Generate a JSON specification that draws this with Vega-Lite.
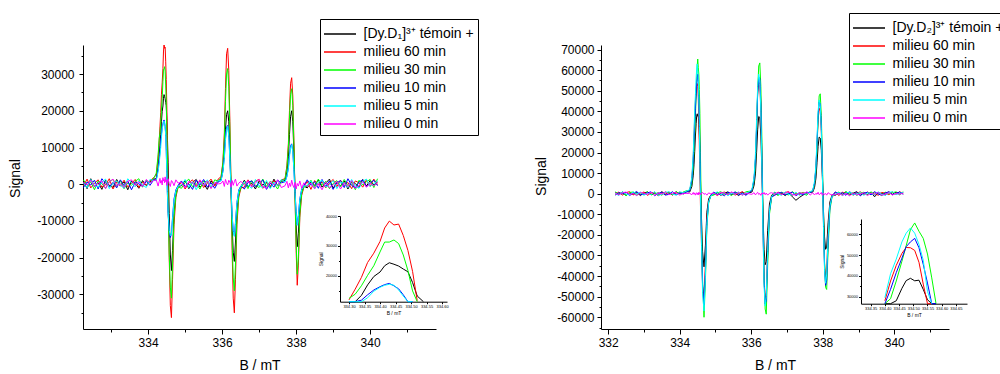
{
"$schema":"https://vega.github.io/schema/vega-lite/v6.json",
"autosize":{"type":"pad"},
"padding":{"left":8,"top":12,"right":0,"bottom":0},
"background":"white",
"bounds":"flush",
"spacing":165,
"config":{"view":{"stroke":null},"font":"Liberation Sans","axis":{"grid":false,"domainColor":"black","tickColor":"black","labelColor":"black","titleColor":"black","labelFont":"Liberation Sans","titleFont":"Liberation Sans","titleFontWeight":"normal","domainWidth":1,"tickWidth":1},"legend":{"labelFont":"Liberation Sans"}},
"datasets":{
"L":[
{"s":"k","B":332.25,"v":800},{"s":"k","B":332.35,"v":-1200},{"s":"k","B":332.45,"v":1500},{"s":"k","B":332.55,"v":-600},{"s":"k","B":332.65,"v":400},{"s":"k","B":332.75,"v":-1400},{"s":"k","B":332.85,"v":1100},{"s":"k","B":332.95,"v":-300},{"s":"k","B":333.05,"v":-900},{"s":"k","B":333.15,"v":1300},{"s":"k","B":333.25,"v":-500},{"s":"k","B":333.35,"v":700},{"s":"k","B":333.45,"v":-1500},{"s":"k","B":333.55,"v":900},{"s":"k","B":333.65,"v":200},{"s":"k","B":333.75,"v":-1100},{"s":"k","B":333.85,"v":1000},{"s":"k","B":333.95,"v":-400},{"s":"k","B":334.05,"v":600},{"s":"k","B":334.15,"v":1400},
{"s":"k","B":334.22,"v":1500},{"s":"k","B":334.27,"v":4500},{"s":"k","B":334.3,"v":8000},{"s":"k","B":334.32,"v":10500},{"s":"k","B":334.34,"v":13500},{"s":"k","B":334.36,"v":17000},{"s":"k","B":334.38,"v":19800},{"s":"k","B":334.4,"v":21300},{"s":"k","B":334.415,"v":23400},{"s":"k","B":334.43,"v":24400},{"s":"k","B":334.445,"v":23900},{"s":"k","B":334.46,"v":23300},{"s":"k","B":334.475,"v":22300},{"s":"k","B":334.49,"v":21400},{"s":"k","B":334.505,"v":17800},{"s":"k","B":334.52,"v":13300},{"s":"k","B":334.54,"v":6000},{"s":"k","B":334.57,"v":-8000},{"s":"k","B":334.6,"v":-19000},{"s":"k","B":334.63,"v":-23500},{"s":"k","B":334.66,"v":-18000},{"s":"k","B":334.7,"v":-8000},{"s":"k","B":334.75,"v":-2500},{"s":"k","B":334.81,"v":-600},
{"s":"k","B":334.9,"v":-400},{"s":"k","B":335,"v":1000},{"s":"k","B":335.1,"v":-1200},{"s":"k","B":335.2,"v":500},{"s":"k","B":335.3,"v":1300},{"s":"k","B":335.4,"v":-800},{"s":"k","B":335.5,"v":200},{"s":"k","B":335.6,"v":-1400},{"s":"k","B":335.7,"v":900},{"s":"k","B":335.8,"v":-300},{"s":"k","B":335.9,"v":1100},
{"s":"k","B":335.97,"v":1200},{"s":"k","B":336.02,"v":4000},{"s":"k","B":336.06,"v":9000},{"s":"k","B":336.09,"v":15000},{"s":"k","B":336.12,"v":19000},{"s":"k","B":336.15,"v":20000},{"s":"k","B":336.18,"v":17000},{"s":"k","B":336.21,"v":9000},{"s":"k","B":336.24,"v":-1000},{"s":"k","B":336.27,"v":-11000},{"s":"k","B":336.3,"v":-18500},{"s":"k","B":336.33,"v":-21000},{"s":"k","B":336.36,"v":-16000},{"s":"k","B":336.4,"v":-7000},{"s":"k","B":336.45,"v":-2500},{"s":"k","B":336.51,"v":-600},
{"s":"k","B":336.6,"v":1100},{"s":"k","B":336.7,"v":-700},{"s":"k","B":336.8,"v":300},{"s":"k","B":336.9,"v":-1300},{"s":"k","B":337,"v":900},{"s":"k","B":337.1,"v":-200},{"s":"k","B":337.2,"v":600},{"s":"k","B":337.3,"v":-1000},{"s":"k","B":337.4,"v":1400},{"s":"k","B":337.5,"v":-500},{"s":"k","B":337.6,"v":800},
{"s":"k","B":337.7,"v":1000},{"s":"k","B":337.75,"v":3500},{"s":"k","B":337.79,"v":7500},{"s":"k","B":337.82,"v":13500},{"s":"k","B":337.85,"v":18500},{"s":"k","B":337.88,"v":20000},{"s":"k","B":337.91,"v":17000},{"s":"k","B":337.94,"v":8500},{"s":"k","B":337.97,"v":-2000},{"s":"k","B":338,"v":-11000},{"s":"k","B":338.03,"v":-17000},{"s":"k","B":338.06,"v":-13500},{"s":"k","B":338.1,"v":-6000},{"s":"k","B":338.15,"v":-2000},{"s":"k","B":338.21,"v":-500},
{"s":"k","B":338.3,"v":-1000},{"s":"k","B":338.4,"v":600},{"s":"k","B":338.5,"v":-300},{"s":"k","B":338.6,"v":1200},{"s":"k","B":338.7,"v":-800},{"s":"k","B":338.8,"v":300},{"s":"k","B":338.9,"v":1400},{"s":"k","B":339,"v":-1100},{"s":"k","B":339.1,"v":500},{"s":"k","B":339.2,"v":-400},{"s":"k","B":339.3,"v":900},{"s":"k","B":339.4,"v":-1300},{"s":"k","B":339.5,"v":700},{"s":"k","B":339.6,"v":200},{"s":"k","B":339.7,"v":-900},{"s":"k","B":339.8,"v":1300},{"s":"k","B":339.9,"v":-500},{"s":"k","B":340,"v":1000},{"s":"k","B":340.1,"v":-200},{"s":"k","B":340.2,"v":600},

{"s":"r","B":332.25,"v":-500},{"s":"r","B":332.35,"v":1400},{"s":"r","B":332.45,"v":-1000},{"s":"r","B":332.55,"v":300},{"s":"r","B":332.65,"v":1200},{"s":"r","B":332.75,"v":-800},{"s":"r","B":332.85,"v":-200},{"s":"r","B":332.95,"v":1500},{"s":"r","B":333.05,"v":-1300},{"s":"r","B":333.15,"v":600},{"s":"r","B":333.25,"v":-400},{"s":"r","B":333.35,"v":1100},{"s":"r","B":333.45,"v":-700},{"s":"r","B":333.55,"v":200},{"s":"r","B":333.65,"v":1300},{"s":"r","B":333.75,"v":-900},{"s":"r","B":333.85,"v":500},{"s":"r","B":333.95,"v":-200},{"s":"r","B":334.05,"v":900},{"s":"r","B":334.15,"v":1800},
{"s":"r","B":334.22,"v":2500},{"s":"r","B":334.27,"v":7000},{"s":"r","B":334.3,"v":12000},{"s":"r","B":334.32,"v":15600},{"s":"r","B":334.34,"v":19500},{"s":"r","B":334.36,"v":24500},{"s":"r","B":334.38,"v":27600},{"s":"r","B":334.4,"v":31500},{"s":"r","B":334.415,"v":36000},{"s":"r","B":334.43,"v":38300},{"s":"r","B":334.445,"v":37000},{"s":"r","B":334.46,"v":37300},{"s":"r","B":334.475,"v":33500},{"s":"r","B":334.49,"v":28500},{"s":"r","B":334.505,"v":21500},{"s":"r","B":334.52,"v":11700},{"s":"r","B":334.54,"v":-2000},{"s":"r","B":334.57,"v":-20000},{"s":"r","B":334.6,"v":-33000},{"s":"r","B":334.63,"v":-36300},{"s":"r","B":334.66,"v":-26000},{"s":"r","B":334.7,"v":-11000},{"s":"r","B":334.75,"v":-3500},{"s":"r","B":334.81,"v":-800},
{"s":"r","B":334.9,"v":700},{"s":"r","B":335,"v":-1300},{"s":"r","B":335.1,"v":400},{"s":"r","B":335.2,"v":1200},{"s":"r","B":335.3,"v":-600},{"s":"r","B":335.4,"v":1000},{"s":"r","B":335.5,"v":-900},{"s":"r","B":335.6,"v":300},{"s":"r","B":335.7,"v":1400},{"s":"r","B":335.8,"v":-500},{"s":"r","B":335.9,"v":1500},
{"s":"r","B":335.97,"v":2000},{"s":"r","B":336.02,"v":6000},{"s":"r","B":336.06,"v":14000},{"s":"r","B":336.09,"v":26000},{"s":"r","B":336.12,"v":35500},{"s":"r","B":336.15,"v":37000},{"s":"r","B":336.18,"v":31000},{"s":"r","B":336.21,"v":17000},{"s":"r","B":336.24,"v":0},{"s":"r","B":336.27,"v":-18000},{"s":"r","B":336.3,"v":-31000},{"s":"r","B":336.33,"v":-35000},{"s":"r","B":336.36,"v":-26000},{"s":"r","B":336.4,"v":-11000},{"s":"r","B":336.45,"v":-3500},{"s":"r","B":336.51,"v":-1000},
{"s":"r","B":336.6,"v":-800},{"s":"r","B":336.7,"v":1200},{"s":"r","B":336.8,"v":-400},{"s":"r","B":336.9,"v":900},{"s":"r","B":337,"v":1300},{"s":"r","B":337.1,"v":-1100},{"s":"r","B":337.2,"v":400},{"s":"r","B":337.3,"v":-600},{"s":"r","B":337.4,"v":1000},{"s":"r","B":337.5,"v":-300},{"s":"r","B":337.6,"v":1200},
{"s":"r","B":337.7,"v":1500},{"s":"r","B":337.75,"v":5000},{"s":"r","B":337.79,"v":11000},{"s":"r","B":337.82,"v":20000},{"s":"r","B":337.85,"v":27500},{"s":"r","B":337.88,"v":29000},{"s":"r","B":337.91,"v":24000},{"s":"r","B":337.94,"v":12000},{"s":"r","B":337.97,"v":-3000},{"s":"r","B":338,"v":-18000},{"s":"r","B":338.03,"v":-27500},{"s":"r","B":338.06,"v":-22000},{"s":"r","B":338.1,"v":-9000},{"s":"r","B":338.15,"v":-3000},{"s":"r","B":338.21,"v":-800},
{"s":"r","B":338.3,"v":800},{"s":"r","B":338.4,"v":-1400},{"s":"r","B":338.5,"v":1000},{"s":"r","B":338.6,"v":-200},{"s":"r","B":338.7,"v":600},{"s":"r","B":338.8,"v":-1000},{"s":"r","B":338.9,"v":300},{"s":"r","B":339,"v":1300},{"s":"r","B":339.1,"v":-700},{"s":"r","B":339.2,"v":1100},{"s":"r","B":339.3,"v":-300},{"s":"r","B":339.4,"v":500},{"s":"r","B":339.5,"v":-1200},{"s":"r","B":339.6,"v":900},{"s":"r","B":339.7,"v":400},{"s":"r","B":339.8,"v":-800},{"s":"r","B":339.9,"v":1200},{"s":"r","B":340,"v":-600},{"s":"r","B":340.1,"v":1400},{"s":"r","B":340.2,"v":-100},

{"s":"g","B":332.25,"v":1200},{"s":"g","B":332.35,"v":-300},{"s":"g","B":332.45,"v":600},{"s":"g","B":332.55,"v":-1500},{"s":"g","B":332.65,"v":900},{"s":"g","B":332.75,"v":200},{"s":"g","B":332.85,"v":-1100},{"s":"g","B":332.95,"v":700},{"s":"g","B":333.05,"v":1300},{"s":"g","B":333.15,"v":-600},{"s":"g","B":333.25,"v":1000},{"s":"g","B":333.35,"v":-1200},{"s":"g","B":333.45,"v":400},{"s":"g","B":333.55,"v":-300},{"s":"g","B":333.65,"v":800},{"s":"g","B":333.75,"v":1500},{"s":"g","B":333.85,"v":-800},{"s":"g","B":333.95,"v":1100},{"s":"g","B":334.05,"v":300},{"s":"g","B":334.15,"v":1600},
{"s":"g","B":334.22,"v":3000},{"s":"g","B":334.27,"v":8000},{"s":"g","B":334.3,"v":12500},{"s":"g","B":334.32,"v":13900},{"s":"g","B":334.34,"v":16700},{"s":"g","B":334.36,"v":20200},{"s":"g","B":334.38,"v":23400},{"s":"g","B":334.4,"v":28000},{"s":"g","B":334.415,"v":31300},{"s":"g","B":334.43,"v":31300},{"s":"g","B":334.445,"v":32000},{"s":"g","B":334.46,"v":30800},{"s":"g","B":334.475,"v":27000},{"s":"g","B":334.49,"v":21800},{"s":"g","B":334.505,"v":15000},{"s":"g","B":334.52,"v":7000},{"s":"g","B":334.54,"v":-5000},{"s":"g","B":334.57,"v":-19000},{"s":"g","B":334.6,"v":-28000},{"s":"g","B":334.63,"v":-31000},{"s":"g","B":334.66,"v":-22000},{"s":"g","B":334.7,"v":-9000},{"s":"g","B":334.75,"v":-3000},{"s":"g","B":334.81,"v":-700},
{"s":"g","B":334.9,"v":-1100},{"s":"g","B":335,"v":500},{"s":"g","B":335.1,"v":1400},{"s":"g","B":335.2,"v":-700},{"s":"g","B":335.3,"v":200},{"s":"g","B":335.4,"v":-1300},{"s":"g","B":335.5,"v":900},{"s":"g","B":335.6,"v":600},{"s":"g","B":335.7,"v":-1000},{"s":"g","B":335.8,"v":1200},{"s":"g","B":335.9,"v":800},
{"s":"g","B":335.97,"v":1800},{"s":"g","B":336.02,"v":5500},{"s":"g","B":336.06,"v":12500},{"s":"g","B":336.09,"v":22500},{"s":"g","B":336.12,"v":30000},{"s":"g","B":336.15,"v":31500},{"s":"g","B":336.18,"v":26500},{"s":"g","B":336.21,"v":14500},{"s":"g","B":336.24,"v":0},{"s":"g","B":336.27,"v":-15000},{"s":"g","B":336.3,"v":-25500},{"s":"g","B":336.33,"v":-29000},{"s":"g","B":336.36,"v":-22000},{"s":"g","B":336.4,"v":-9500},{"s":"g","B":336.45,"v":-3000},{"s":"g","B":336.51,"v":-800},
{"s":"g","B":336.6,"v":400},{"s":"g","B":336.7,"v":-1200},{"s":"g","B":336.8,"v":1000},{"s":"g","B":336.9,"v":-300},{"s":"g","B":337,"v":-900},{"s":"g","B":337.1,"v":1400},{"s":"g","B":337.2,"v":-600},{"s":"g","B":337.3,"v":800},{"s":"g","B":337.4,"v":200},{"s":"g","B":337.5,"v":-1300},{"s":"g","B":337.6,"v":900},
{"s":"g","B":337.7,"v":1400},{"s":"g","B":337.75,"v":4500},{"s":"g","B":337.79,"v":10000},{"s":"g","B":337.82,"v":18000},{"s":"g","B":337.85,"v":24500},{"s":"g","B":337.88,"v":26000},{"s":"g","B":337.91,"v":21500},{"s":"g","B":337.94,"v":10500},{"s":"g","B":337.97,"v":-3000},{"s":"g","B":338,"v":-16000},{"s":"g","B":338.03,"v":-24500},{"s":"g","B":338.06,"v":-20000},{"s":"g","B":338.1,"v":-8000},{"s":"g","B":338.15,"v":-2500},{"s":"g","B":338.21,"v":-700},
{"s":"g","B":338.3,"v":-600},{"s":"g","B":338.4,"v":1100},{"s":"g","B":338.5,"v":-900},{"s":"g","B":338.6,"v":1400},{"s":"g","B":338.7,"v":-300},{"s":"g","B":338.8,"v":800},{"s":"g","B":338.9,"v":-1200},{"s":"g","B":339,"v":200},{"s":"g","B":339.1,"v":1000},{"s":"g","B":339.2,"v":-700},{"s":"g","B":339.3,"v":1300},{"s":"g","B":339.4,"v":-400},{"s":"g","B":339.5,"v":600},{"s":"g","B":339.6,"v":-1500},{"s":"g","B":339.7,"v":1100},{"s":"g","B":339.8,"v":-200},{"s":"g","B":339.9,"v":700},{"s":"g","B":340,"v":1300},{"s":"g","B":340.1,"v":-900},{"s":"g","B":340.2,"v":1500},

{"s":"b","B":332.25,"v":-900},{"s":"b","B":332.35,"v":600},{"s":"b","B":332.45,"v":-200},{"s":"b","B":332.55,"v":1100},{"s":"b","B":332.65,"v":-1300},{"s":"b","B":332.75,"v":1500},{"s":"b","B":332.85,"v":300},{"s":"b","B":332.95,"v":-700},{"s":"b","B":333.05,"v":500},{"s":"b","B":333.15,"v":-1000},{"s":"b","B":333.25,"v":1200},{"s":"b","B":333.35,"v":-400},{"s":"b","B":333.45,"v":900},{"s":"b","B":333.55,"v":-1500},{"s":"b","B":333.65,"v":600},{"s":"b","B":333.75,"v":100},{"s":"b","B":333.85,"v":-600},{"s":"b","B":333.95,"v":800},{"s":"b","B":334.05,"v":-300},{"s":"b","B":334.15,"v":1200},
{"s":"b","B":334.22,"v":1200},{"s":"b","B":334.27,"v":4000},{"s":"b","B":334.3,"v":6500},{"s":"b","B":334.32,"v":8800},{"s":"b","B":334.34,"v":11900},{"s":"b","B":334.36,"v":13700},{"s":"b","B":334.38,"v":15300},{"s":"b","B":334.4,"v":16400},{"s":"b","B":334.415,"v":17100},{"s":"b","B":334.43,"v":17500},{"s":"b","B":334.445,"v":16700},{"s":"b","B":334.46,"v":15700},{"s":"b","B":334.475,"v":13700},{"s":"b","B":334.49,"v":9000},{"s":"b","B":334.505,"v":3000},{"s":"b","B":334.52,"v":-2500},{"s":"b","B":334.54,"v":-8000},{"s":"b","B":334.57,"v":-12500},{"s":"b","B":334.6,"v":-14500},{"s":"b","B":334.63,"v":-13500},{"s":"b","B":334.66,"v":-9000},{"s":"b","B":334.7,"v":-4000},{"s":"b","B":334.75,"v":-1500},{"s":"b","B":334.81,"v":-300},
{"s":"b","B":334.9,"v":900},{"s":"b","B":335,"v":-600},{"s":"b","B":335.1,"v":100},{"s":"b","B":335.2,"v":-1400},{"s":"b","B":335.3,"v":1100},{"s":"b","B":335.4,"v":-200},{"s":"b","B":335.5,"v":1300},{"s":"b","B":335.6,"v":-800},{"s":"b","B":335.7,"v":400},{"s":"b","B":335.8,"v":-1100},{"s":"b","B":335.9,"v":700},
{"s":"b","B":335.97,"v":1000},{"s":"b","B":336.02,"v":3500},{"s":"b","B":336.06,"v":7500},{"s":"b","B":336.09,"v":12500},{"s":"b","B":336.12,"v":15500},{"s":"b","B":336.15,"v":16000},{"s":"b","B":336.18,"v":13500},{"s":"b","B":336.21,"v":7000},{"s":"b","B":336.24,"v":-1000},{"s":"b","B":336.27,"v":-8500},{"s":"b","B":336.3,"v":-12500},{"s":"b","B":336.33,"v":-14000},{"s":"b","B":336.36,"v":-10500},{"s":"b","B":336.4,"v":-5000},{"s":"b","B":336.45,"v":-1500},{"s":"b","B":336.51,"v":-400},
{"s":"b","B":336.6,"v":-1300},{"s":"b","B":336.7,"v":500},{"s":"b","B":336.8,"v":900},{"s":"b","B":336.9,"v":-700},{"s":"b","B":337,"v":200},{"s":"b","B":337.1,"v":1200},{"s":"b","B":337.2,"v":-1400},{"s":"b","B":337.3,"v":300},{"s":"b","B":337.4,"v":-800},{"s":"b","B":337.5,"v":1100},{"s":"b","B":337.6,"v":400},
{"s":"b","B":337.7,"v":700},{"s":"b","B":337.75,"v":2200},{"s":"b","B":337.79,"v":4500},{"s":"b","B":337.82,"v":8000},{"s":"b","B":337.85,"v":10500},{"s":"b","B":337.88,"v":11000},{"s":"b","B":337.91,"v":9000},{"s":"b","B":337.94,"v":4000},{"s":"b","B":337.97,"v":-2000},{"s":"b","B":338,"v":-7500},{"s":"b","B":338.03,"v":-11000},{"s":"b","B":338.06,"v":-8500},{"s":"b","B":338.1,"v":-4000},{"s":"b","B":338.15,"v":-1300},{"s":"b","B":338.21,"v":-400},
{"s":"b","B":338.3,"v":1200},{"s":"b","B":338.4,"v":-300},{"s":"b","B":338.5,"v":700},{"s":"b","B":338.6,"v":-1100},{"s":"b","B":338.7,"v":1300},{"s":"b","B":338.8,"v":-600},{"s":"b","B":338.9,"v":900},{"s":"b","B":339,"v":-1400},{"s":"b","B":339.1,"v":400},{"s":"b","B":339.2,"v":1000},{"s":"b","B":339.3,"v":-900},{"s":"b","B":339.4,"v":1500},{"s":"b","B":339.5,"v":-300},{"s":"b","B":339.6,"v":-1000},{"s":"b","B":339.7,"v":600},{"s":"b","B":339.8,"v":1200},{"s":"b","B":339.9,"v":-700},{"s":"b","B":340,"v":300},{"s":"b","B":340.1,"v":1100},{"s":"b","B":340.2,"v":-400},

{"s":"c","B":332.25,"v":300},{"s":"c","B":332.35,"v":-1000},{"s":"c","B":332.45,"v":1300},{"s":"c","B":332.55,"v":-400},{"s":"c","B":332.65,"v":-800},{"s":"c","B":332.75,"v":600},{"s":"c","B":332.85,"v":1400},{"s":"c","B":332.95,"v":-1200},{"s":"c","B":333.05,"v":200},{"s":"c","B":333.15,"v":900},{"s":"c","B":333.25,"v":-300},{"s":"c","B":333.35,"v":-1100},{"s":"c","B":333.45,"v":1500},{"s":"c","B":333.55,"v":400},{"s":"c","B":333.65,"v":-700},{"s":"c","B":333.75,"v":1000},{"s":"c","B":333.85,"v":-200},{"s":"c","B":333.95,"v":-900},{"s":"c","B":334.05,"v":1300},{"s":"c","B":334.15,"v":1000},
{"s":"c","B":334.22,"v":1000},{"s":"c","B":334.27,"v":3500},{"s":"c","B":334.3,"v":5800},{"s":"c","B":334.32,"v":7800},{"s":"c","B":334.34,"v":10000},{"s":"c","B":334.36,"v":12700},{"s":"c","B":334.38,"v":14900},{"s":"c","B":334.4,"v":16200},{"s":"c","B":334.415,"v":16900},{"s":"c","B":334.43,"v":17200},{"s":"c","B":334.445,"v":16900},{"s":"c","B":334.46,"v":15300},{"s":"c","B":334.475,"v":13300},{"s":"c","B":334.49,"v":9500},{"s":"c","B":334.505,"v":3500},{"s":"c","B":334.52,"v":-2000},{"s":"c","B":334.54,"v":-7500},{"s":"c","B":334.57,"v":-12500},{"s":"c","B":334.6,"v":-14000},{"s":"c","B":334.63,"v":-13800},{"s":"c","B":334.66,"v":-9500},{"s":"c","B":334.7,"v":-4500},{"s":"c","B":334.75,"v":-1800},{"s":"c","B":334.81,"v":-500},
{"s":"c","B":334.9,"v":-200},{"s":"c","B":335,"v":1300},{"s":"c","B":335.1,"v":-900},{"s":"c","B":335.2,"v":700},{"s":"c","B":335.3,"v":-1500},{"s":"c","B":335.4,"v":600},{"s":"c","B":335.5,"v":-400},{"s":"c","B":335.6,"v":1200},{"s":"c","B":335.7,"v":-700},{"s":"c","B":335.8,"v":300},{"s":"c","B":335.9,"v":1000},
{"s":"c","B":335.97,"v":900},{"s":"c","B":336.02,"v":3300},{"s":"c","B":336.06,"v":7000},{"s":"c","B":336.09,"v":12000},{"s":"c","B":336.12,"v":15000},{"s":"c","B":336.15,"v":15800},{"s":"c","B":336.18,"v":13000},{"s":"c","B":336.21,"v":6500},{"s":"c","B":336.24,"v":-1200},{"s":"c","B":336.27,"v":-8500},{"s":"c","B":336.3,"v":-12800},{"s":"c","B":336.33,"v":-14200},{"s":"c","B":336.36,"v":-11000},{"s":"c","B":336.4,"v":-5200},{"s":"c","B":336.45,"v":-1800},{"s":"c","B":336.51,"v":-500},
{"s":"c","B":336.6,"v":700},{"s":"c","B":336.7,"v":-300},{"s":"c","B":336.8,"v":-1100},{"s":"c","B":336.9,"v":1300},{"s":"c","B":337,"v":-500},{"s":"c","B":337.1,"v":-900},{"s":"c","B":337.2,"v":1000},{"s":"c","B":337.3,"v":-1200},{"s":"c","B":337.4,"v":600},{"s":"c","B":337.5,"v":-400},{"s":"c","B":337.6,"v":1300},
{"s":"c","B":337.7,"v":600},{"s":"c","B":337.75,"v":2000},{"s":"c","B":337.79,"v":4200},{"s":"c","B":337.82,"v":7500},{"s":"c","B":337.85,"v":10000},{"s":"c","B":337.88,"v":10800},{"s":"c","B":337.91,"v":8800},{"s":"c","B":337.94,"v":3800},{"s":"c","B":337.97,"v":-2200},{"s":"c","B":338,"v":-7800},{"s":"c","B":338.03,"v":-11200},{"s":"c","B":338.06,"v":-8800},{"s":"c","B":338.1,"v":-4200},{"s":"c","B":338.15,"v":-1500},{"s":"c","B":338.21,"v":-500},
{"s":"c","B":338.3,"v":-300},{"s":"c","B":338.4,"v":900},{"s":"c","B":338.5,"v":-1300},{"s":"c","B":338.6,"v":500},{"s":"c","B":338.7,"v":1100},{"s":"c","B":338.8,"v":-800},{"s":"c","B":338.9,"v":-200},{"s":"c","B":339,"v":1000},{"s":"c","B":339.1,"v":-1200},{"s":"c","B":339.2,"v":600},{"s":"c","B":339.3,"v":200},{"s":"c","B":339.4,"v":-900},{"s":"c","B":339.5,"v":1300},{"s":"c","B":339.6,"v":-500},{"s":"c","B":339.7,"v":-1100},{"s":"c","B":339.8,"v":800},{"s":"c","B":339.9,"v":1400},{"s":"c","B":340,"v":-600},{"s":"c","B":340.1,"v":200},{"s":"c","B":340.2,"v":900},

{"s":"m","B":332.25,"v":500},{"s":"m","B":332.35,"v":-200},{"s":"m","B":332.45,"v":1100},{"s":"m","B":332.55,"v":-700},{"s":"m","B":332.65,"v":300},{"s":"m","B":332.75,"v":900},{"s":"m","B":332.85,"v":-1200},{"s":"m","B":332.95,"v":600},{"s":"m","B":333.05,"v":1400},{"s":"m","B":333.15,"v":-400},{"s":"m","B":333.25,"v":200},{"s":"m","B":333.35,"v":-900},{"s":"m","B":333.45,"v":800},{"s":"m","B":333.55,"v":1200},{"s":"m","B":333.65,"v":-300},{"s":"m","B":333.75,"v":700},{"s":"m","B":333.85,"v":-600},{"s":"m","B":333.95,"v":1300},{"s":"m","B":334.05,"v":400},{"s":"m","B":334.15,"v":1000},
{"s":"m","B":334.22,"v":1200},{"s":"m","B":334.27,"v":-500},{"s":"m","B":334.3,"v":800},{"s":"m","B":334.32,"v":1600},{"s":"m","B":334.34,"v":300},{"s":"m","B":334.36,"v":1000},{"s":"m","B":334.38,"v":-200},{"s":"m","B":334.4,"v":1800},{"s":"m","B":334.415,"v":900},{"s":"m","B":334.43,"v":1300},{"s":"m","B":334.445,"v":400},{"s":"m","B":334.46,"v":2000},{"s":"m","B":334.475,"v":700},{"s":"m","B":334.49,"v":1100},{"s":"m","B":334.505,"v":-300},{"s":"m","B":334.52,"v":900},{"s":"m","B":334.54,"v":1500},{"s":"m","B":334.57,"v":200},{"s":"m","B":334.6,"v":-600},{"s":"m","B":334.63,"v":1000},{"s":"m","B":334.66,"v":600},{"s":"m","B":334.7,"v":-400},{"s":"m","B":334.75,"v":1200},{"s":"m","B":334.81,"v":300},
{"s":"m","B":334.9,"v":600},{"s":"m","B":335,"v":-1000},{"s":"m","B":335.1,"v":800},{"s":"m","B":335.2,"v":300},{"s":"m","B":335.3,"v":-700},{"s":"m","B":335.4,"v":1200},{"s":"m","B":335.5,"v":-300},{"s":"m","B":335.6,"v":900},{"s":"m","B":335.7,"v":-1200},{"s":"m","B":335.8,"v":500},{"s":"m","B":335.9,"v":100},
{"s":"m","B":335.97,"v":200},{"s":"m","B":336.02,"v":900},{"s":"m","B":336.06,"v":-600},{"s":"m","B":336.09,"v":1300},{"s":"m","B":336.12,"v":400},{"s":"m","B":336.15,"v":-200},{"s":"m","B":336.18,"v":1100},{"s":"m","B":336.21,"v":600},{"s":"m","B":336.24,"v":-800},{"s":"m","B":336.27,"v":1000},{"s":"m","B":336.3,"v":-300},{"s":"m","B":336.33,"v":700},{"s":"m","B":336.36,"v":1400},{"s":"m","B":336.4,"v":-500},{"s":"m","B":336.45,"v":300},{"s":"m","B":336.51,"v":800},
{"s":"m","B":336.6,"v":-300},{"s":"m","B":336.7,"v":1000},{"s":"m","B":336.8,"v":-800},{"s":"m","B":336.9,"v":400},{"s":"m","B":337,"v":1300},{"s":"m","B":337.1,"v":-600},{"s":"m","B":337.2,"v":-1100},{"s":"m","B":337.3,"v":700},{"s":"m","B":337.4,"v":-200},{"s":"m","B":337.5,"v":1200},{"s":"m","B":337.6,"v":-900},
{"s":"m","B":337.7,"v":-400},{"s":"m","B":337.75,"v":800},{"s":"m","B":337.79,"v":-1000},{"s":"m","B":337.82,"v":300},{"s":"m","B":337.85,"v":-600},{"s":"m","B":337.88,"v":1100},{"s":"m","B":337.91,"v":-200},{"s":"m","B":337.94,"v":-900},{"s":"m","B":337.97,"v":500},{"s":"m","B":338,"v":-1300},{"s":"m","B":338.03,"v":200},{"s":"m","B":338.06,"v":-500},{"s":"m","B":338.1,"v":900},{"s":"m","B":338.15,"v":-1100},{"s":"m","B":338.21,"v":400},
{"s":"m","B":338.3,"v":-700},{"s":"m","B":338.4,"v":300},{"s":"m","B":338.5,"v":-1200},{"s":"m","B":338.6,"v":200},{"s":"m","B":338.7,"v":-1500},{"s":"m","B":338.8,"v":600},{"s":"m","B":338.9,"v":-900},{"s":"m","B":339,"v":-200},{"s":"m","B":339.1,"v":800},{"s":"m","B":339.2,"v":-1300},{"s":"m","B":339.3,"v":400},{"s":"m","B":339.4,"v":-600},{"s":"m","B":339.5,"v":1000},{"s":"m","B":339.6,"v":-1100},{"s":"m","B":339.7,"v":-300},{"s":"m","B":339.8,"v":700},{"s":"m","B":339.9,"v":-800},{"s":"m","B":340,"v":300},{"s":"m","B":340.1,"v":-400},{"s":"m","B":340.2,"v":500}
],
"R":[
{"s":"k","B":332.2,"v":600},{"s":"k","B":332.3,"v":-400},{"s":"k","B":332.4,"v":900},{"s":"k","B":332.5,"v":-800},{"s":"k","B":332.6,"v":300},{"s":"k","B":332.7,"v":-200},{"s":"k","B":332.8,"v":700},{"s":"k","B":332.9,"v":-900},{"s":"k","B":333,"v":400},{"s":"k","B":333.1,"v":800},{"s":"k","B":333.2,"v":-500},{"s":"k","B":333.3,"v":200},{"s":"k","B":333.4,"v":-700},{"s":"k","B":333.5,"v":1000},{"s":"k","B":333.6,"v":-300},{"s":"k","B":333.7,"v":500},{"s":"k","B":333.8,"v":-600},{"s":"k","B":333.9,"v":900},{"s":"k","B":334,"v":100},{"s":"k","B":334.1,"v":600},{"s":"k","B":334.2,"v":1000},
{"s":"k","B":334.28,"v":800},{"s":"k","B":334.34,"v":3500},{"s":"k","B":334.38,"v":9000},{"s":"k","B":334.4,"v":14000},{"s":"k","B":334.42,"v":20500},{"s":"k","B":334.44,"v":28000},{"s":"k","B":334.46,"v":34000},{"s":"k","B":334.475,"v":37700},{"s":"k","B":334.49,"v":38800},{"s":"k","B":334.505,"v":37600},{"s":"k","B":334.52,"v":37900},{"s":"k","B":334.535,"v":33500},{"s":"k","B":334.55,"v":28500},{"s":"k","B":334.565,"v":20000},{"s":"k","B":334.58,"v":8000},{"s":"k","B":334.61,"v":-12000},{"s":"k","B":334.64,"v":-28000},{"s":"k","B":334.68,"v":-35500},{"s":"k","B":334.72,"v":-25000},{"s":"k","B":334.76,"v":-9000},{"s":"k","B":334.81,"v":-2500},{"s":"k","B":334.87,"v":-600},
{"s":"k","B":334.95,"v":-300},{"s":"k","B":335.05,"v":600},{"s":"k","B":335.15,"v":-800},{"s":"k","B":335.25,"v":200},{"s":"k","B":335.35,"v":900},{"s":"k","B":335.45,"v":-500},{"s":"k","B":335.55,"v":300},{"s":"k","B":335.65,"v":-900},{"s":"k","B":335.75,"v":700},{"s":"k","B":335.85,"v":-200},{"s":"k","B":335.95,"v":500},
{"s":"k","B":336.02,"v":800},{"s":"k","B":336.08,"v":4000},{"s":"k","B":336.12,"v":10000},{"s":"k","B":336.15,"v":20000},{"s":"k","B":336.18,"v":31000},{"s":"k","B":336.21,"v":37500},{"s":"k","B":336.24,"v":37000},{"s":"k","B":336.27,"v":28000},{"s":"k","B":336.3,"v":10000},{"s":"k","B":336.33,"v":-10000},{"s":"k","B":336.36,"v":-27000},{"s":"k","B":336.39,"v":-34500},{"s":"k","B":336.42,"v":-33000},{"s":"k","B":336.46,"v":-18000},{"s":"k","B":336.51,"v":-5000},{"s":"k","B":336.57,"v":-800},
{"s":"k","B":336.65,"v":700},{"s":"k","B":336.75,"v":-500},{"s":"k","B":336.85,"v":200},{"s":"k","B":336.95,"v":-900},{"s":"k","B":337.05,"v":400},{"s":"k","B":337.15,"v":-1500},{"s":"k","B":337.25,"v":-3200},{"s":"k","B":337.35,"v":-1800},{"s":"k","B":337.45,"v":-600},{"s":"k","B":337.55,"v":300},{"s":"k","B":337.65,"v":800},
{"s":"k","B":337.72,"v":700},{"s":"k","B":337.77,"v":3000},{"s":"k","B":337.81,"v":7500},{"s":"k","B":337.84,"v":15000},{"s":"k","B":337.87,"v":23000},{"s":"k","B":337.9,"v":27500},{"s":"k","B":337.93,"v":27000},{"s":"k","B":337.96,"v":21000},{"s":"k","B":337.99,"v":8000},{"s":"k","B":338.02,"v":-8000},{"s":"k","B":338.05,"v":-21000},{"s":"k","B":338.08,"v":-27000},{"s":"k","B":338.11,"v":-26000},{"s":"k","B":338.15,"v":-14000},{"s":"k","B":338.2,"v":-4000},{"s":"k","B":338.26,"v":-700},
{"s":"k","B":338.35,"v":-800},{"s":"k","B":338.45,"v":500},{"s":"k","B":338.55,"v":-200},{"s":"k","B":338.65,"v":900},{"s":"k","B":338.75,"v":-600},{"s":"k","B":338.85,"v":200},{"s":"k","B":338.95,"v":1000},{"s":"k","B":339.05,"v":-700},{"s":"k","B":339.15,"v":400},{"s":"k","B":339.25,"v":-300},{"s":"k","B":339.35,"v":700},{"s":"k","B":339.45,"v":-1500},{"s":"k","B":339.55,"v":500},{"s":"k","B":339.65,"v":100},{"s":"k","B":339.75,"v":-600},{"s":"k","B":339.85,"v":900},{"s":"k","B":339.95,"v":-300},{"s":"k","B":340.05,"v":700},{"s":"k","B":340.15,"v":-100},{"s":"k","B":340.25,"v":400},

{"s":"r","B":332.2,"v":-300},{"s":"r","B":332.3,"v":800},{"s":"r","B":332.4,"v":-700},{"s":"r","B":332.5,"v":500},{"s":"r","B":332.6,"v":1000},{"s":"r","B":332.7,"v":-600},{"s":"r","B":332.8,"v":200},{"s":"r","B":332.9,"v":-400},{"s":"r","B":333,"v":900},{"s":"r","B":333.1,"v":-800},{"s":"r","B":333.2,"v":300},{"s":"r","B":333.3,"v":700},{"s":"r","B":333.4,"v":-1000},{"s":"r","B":333.5,"v":400},{"s":"r","B":333.6,"v":-200},{"s":"r","B":333.7,"v":800},{"s":"r","B":333.8,"v":-500},{"s":"r","B":333.9,"v":300},{"s":"r","B":334,"v":700},{"s":"r","B":334.1,"v":-100},{"s":"r","B":334.2,"v":1200},
{"s":"r","B":334.28,"v":1500},{"s":"r","B":334.34,"v":7000},{"s":"r","B":334.38,"v":18000},{"s":"r","B":334.4,"v":28000},{"s":"r","B":334.42,"v":37500},{"s":"r","B":334.44,"v":45000},{"s":"r","B":334.46,"v":50800},{"s":"r","B":334.475,"v":53600},{"s":"r","B":334.49,"v":53500},{"s":"r","B":334.505,"v":52200},{"s":"r","B":334.52,"v":46500},{"s":"r","B":334.535,"v":36000},{"s":"r","B":334.55,"v":23000},{"s":"r","B":334.565,"v":9000},{"s":"r","B":334.58,"v":-5000},{"s":"r","B":334.61,"v":-25000},{"s":"r","B":334.64,"v":-45000},{"s":"r","B":334.68,"v":-50000},{"s":"r","B":334.72,"v":-34000},{"s":"r","B":334.76,"v":-12000},{"s":"r","B":334.81,"v":-3500},{"s":"r","B":334.87,"v":-900},
{"s":"r","B":334.95,"v":500},{"s":"r","B":335.05,"v":-900},{"s":"r","B":335.15,"v":300},{"s":"r","B":335.25,"v":800},{"s":"r","B":335.35,"v":-400},{"s":"r","B":335.45,"v":600},{"s":"r","B":335.55,"v":-700},{"s":"r","B":335.65,"v":100},{"s":"r","B":335.75,"v":1000},{"s":"r","B":335.85,"v":-300},{"s":"r","B":335.95,"v":800},
{"s":"r","B":336.02,"v":1500},{"s":"r","B":336.08,"v":7000},{"s":"r","B":336.12,"v":17000},{"s":"r","B":336.15,"v":33000},{"s":"r","B":336.18,"v":48000},{"s":"r","B":336.21,"v":54500},{"s":"r","B":336.24,"v":53000},{"s":"r","B":336.27,"v":40000},{"s":"r","B":336.3,"v":14000},{"s":"r","B":336.33,"v":-17000},{"s":"r","B":336.36,"v":-42000},{"s":"r","B":336.39,"v":-51500},{"s":"r","B":336.42,"v":-48000},{"s":"r","B":336.46,"v":-27000},{"s":"r","B":336.51,"v":-8000},{"s":"r","B":336.57,"v":-1500},
{"s":"r","B":336.65,"v":-600},{"s":"r","B":336.75,"v":800},{"s":"r","B":336.85,"v":-300},{"s":"r","B":336.95,"v":600},{"s":"r","B":337.05,"v":1000},{"s":"r","B":337.15,"v":-800},{"s":"r","B":337.25,"v":300},{"s":"r","B":337.35,"v":-400},{"s":"r","B":337.45,"v":700},{"s":"r","B":337.55,"v":-200},{"s":"r","B":337.65,"v":900},
{"s":"r","B":337.72,"v":1200},{"s":"r","B":337.77,"v":5000},{"s":"r","B":337.81,"v":12500},{"s":"r","B":337.84,"v":24000},{"s":"r","B":337.87,"v":36000},{"s":"r","B":337.9,"v":41500},{"s":"r","B":337.93,"v":40000},{"s":"r","B":337.96,"v":30000},{"s":"r","B":337.99,"v":10000},{"s":"r","B":338.02,"v":-14000},{"s":"r","B":338.05,"v":-34000},{"s":"r","B":338.08,"v":-40500},{"s":"r","B":338.11,"v":-37000},{"s":"r","B":338.15,"v":-19000},{"s":"r","B":338.2,"v":-5500},{"s":"r","B":338.26,"v":-1000},
{"s":"r","B":338.35,"v":600},{"s":"r","B":338.45,"v":-900},{"s":"r","B":338.55,"v":700},{"s":"r","B":338.65,"v":-100},{"s":"r","B":338.75,"v":400},{"s":"r","B":338.85,"v":-700},{"s":"r","B":338.95,"v":200},{"s":"r","B":339.05,"v":900},{"s":"r","B":339.15,"v":-500},{"s":"r","B":339.25,"v":800},{"s":"r","B":339.35,"v":-200},{"s":"r","B":339.45,"v":400},{"s":"r","B":339.55,"v":-800},{"s":"r","B":339.65,"v":600},{"s":"r","B":339.75,"v":300},{"s":"r","B":339.85,"v":-500},{"s":"r","B":339.95,"v":900},{"s":"r","B":340.05,"v":-400},{"s":"r","B":340.15,"v":1000},{"s":"r","B":340.25,"v":-100},

{"s":"g","B":332.2,"v":900},{"s":"g","B":332.3,"v":-200},{"s":"g","B":332.4,"v":400},{"s":"g","B":332.5,"v":-1000},{"s":"g","B":332.6,"v":600},{"s":"g","B":332.7,"v":800},{"s":"g","B":332.8,"v":-700},{"s":"g","B":332.9,"v":300},{"s":"g","B":333,"v":-300},{"s":"g","B":333.1,"v":1000},{"s":"g","B":333.2,"v":-600},{"s":"g","B":333.3,"v":-100},{"s":"g","B":333.4,"v":500},{"s":"g","B":333.5,"v":-800},{"s":"g","B":333.6,"v":900},{"s":"g","B":333.7,"v":200},{"s":"g","B":333.8,"v":-400},{"s":"g","B":333.9,"v":1000},{"s":"g","B":334,"v":-200},{"s":"g","B":334.1,"v":800},{"s":"g","B":334.2,"v":1500},
{"s":"g","B":334.28,"v":1500},{"s":"g","B":334.34,"v":5000},{"s":"g","B":334.38,"v":13000},{"s":"g","B":334.4,"v":20500},{"s":"g","B":334.42,"v":29000},{"s":"g","B":334.44,"v":37500},{"s":"g","B":334.46,"v":47000},{"s":"g","B":334.475,"v":54500},{"s":"g","B":334.49,"v":62200},{"s":"g","B":334.505,"v":65400},{"s":"g","B":334.52,"v":61400},{"s":"g","B":334.535,"v":58000},{"s":"g","B":334.55,"v":50500},{"s":"g","B":334.565,"v":39000},{"s":"g","B":334.58,"v":20000},{"s":"g","B":334.61,"v":-15000},{"s":"g","B":334.64,"v":-42000},{"s":"g","B":334.68,"v":-60000},{"s":"g","B":334.72,"v":-42000},{"s":"g","B":334.76,"v":-16000},{"s":"g","B":334.81,"v":-4500},{"s":"g","B":334.87,"v":-1000},
{"s":"g","B":334.95,"v":-700},{"s":"g","B":335.05,"v":300},{"s":"g","B":335.15,"v":1000},{"s":"g","B":335.25,"v":-500},{"s":"g","B":335.35,"v":100},{"s":"g","B":335.45,"v":-900},{"s":"g","B":335.55,"v":700},{"s":"g","B":335.65,"v":400},{"s":"g","B":335.75,"v":-600},{"s":"g","B":335.85,"v":900},{"s":"g","B":335.95,"v":1200},
{"s":"g","B":336.02,"v":1500},{"s":"g","B":336.08,"v":6000},{"s":"g","B":336.12,"v":15000},{"s":"g","B":336.15,"v":30000},{"s":"g","B":336.18,"v":50000},{"s":"g","B":336.21,"v":62000},{"s":"g","B":336.24,"v":63500},{"s":"g","B":336.27,"v":52000},{"s":"g","B":336.3,"v":25000},{"s":"g","B":336.33,"v":-10000},{"s":"g","B":336.36,"v":-40000},{"s":"g","B":336.39,"v":-56000},{"s":"g","B":336.42,"v":-58500},{"s":"g","B":336.46,"v":-35000},{"s":"g","B":336.51,"v":-10000},{"s":"g","B":336.57,"v":-2000},
{"s":"g","B":336.65,"v":300},{"s":"g","B":336.75,"v":-900},{"s":"g","B":336.85,"v":700},{"s":"g","B":336.95,"v":-200},{"s":"g","B":337.05,"v":-600},{"s":"g","B":337.15,"v":1000},{"s":"g","B":337.25,"v":-400},{"s":"g","B":337.35,"v":500},{"s":"g","B":337.45,"v":100},{"s":"g","B":337.55,"v":-800},{"s":"g","B":337.65,"v":1100},
{"s":"g","B":337.72,"v":1200},{"s":"g","B":337.77,"v":4500},{"s":"g","B":337.81,"v":11000},{"s":"g","B":337.84,"v":22000},{"s":"g","B":337.87,"v":37000},{"s":"g","B":337.9,"v":47500},{"s":"g","B":337.93,"v":48500},{"s":"g","B":337.96,"v":38000},{"s":"g","B":337.99,"v":17000},{"s":"g","B":338.02,"v":-10000},{"s":"g","B":338.05,"v":-33000},{"s":"g","B":338.08,"v":-45500},{"s":"g","B":338.11,"v":-46500},{"s":"g","B":338.15,"v":-27000},{"s":"g","B":338.2,"v":-8000},{"s":"g","B":338.26,"v":-1500},
{"s":"g","B":338.35,"v":-400},{"s":"g","B":338.45,"v":800},{"s":"g","B":338.55,"v":-600},{"s":"g","B":338.65,"v":1000},{"s":"g","B":338.75,"v":-200},{"s":"g","B":338.85,"v":500},{"s":"g","B":338.95,"v":-800},{"s":"g","B":339.05,"v":100},{"s":"g","B":339.15,"v":700},{"s":"g","B":339.25,"v":-500},{"s":"g","B":339.35,"v":900},{"s":"g","B":339.45,"v":-300},{"s":"g","B":339.55,"v":400},{"s":"g","B":339.65,"v":-1000},{"s":"g","B":339.75,"v":800},{"s":"g","B":339.85,"v":-100},{"s":"g","B":339.95,"v":500},{"s":"g","B":340.05,"v":900},{"s":"g","B":340.15,"v":-600},{"s":"g","B":340.25,"v":1000},

{"s":"b","B":332.2,"v":-700},{"s":"b","B":332.3,"v":500},{"s":"b","B":332.4,"v":-100},{"s":"b","B":332.5,"v":700},{"s":"b","B":332.6,"v":-900},{"s":"b","B":332.7,"v":300},{"s":"b","B":332.8,"v":1000},{"s":"b","B":332.9,"v":-500},{"s":"b","B":333,"v":-200},{"s":"b","B":333.1,"v":400},{"s":"b","B":333.2,"v":900},{"s":"b","B":333.3,"v":-1000},{"s":"b","B":333.4,"v":200},{"s":"b","B":333.5,"v":600},{"s":"b","B":333.6,"v":-700},{"s":"b","B":333.7,"v":-300},{"s":"b","B":333.8,"v":1000},{"s":"b","B":333.9,"v":-600},{"s":"b","B":334,"v":400},{"s":"b","B":334.1,"v":-100},{"s":"b","B":334.2,"v":900},
{"s":"b","B":334.28,"v":1500},{"s":"b","B":334.34,"v":6500},{"s":"b","B":334.38,"v":16000},{"s":"b","B":334.4,"v":25000},{"s":"b","B":334.42,"v":33500},{"s":"b","B":334.44,"v":41500},{"s":"b","B":334.46,"v":48500},{"s":"b","B":334.475,"v":54000},{"s":"b","B":334.49,"v":56300},{"s":"b","B":334.505,"v":58000},{"s":"b","B":334.52,"v":53500},{"s":"b","B":334.535,"v":45500},{"s":"b","B":334.55,"v":36500},{"s":"b","B":334.565,"v":22000},{"s":"b","B":334.58,"v":5000},{"s":"b","B":334.61,"v":-20000},{"s":"b","B":334.64,"v":-44000},{"s":"b","B":334.68,"v":-54000},{"s":"b","B":334.72,"v":-38000},{"s":"b","B":334.76,"v":-14000},{"s":"b","B":334.81,"v":-4000},{"s":"b","B":334.87,"v":-1000},
{"s":"b","B":334.95,"v":800},{"s":"b","B":335.05,"v":-400},{"s":"b","B":335.15,"v":-100},{"s":"b","B":335.25,"v":-1000},{"s":"b","B":335.35,"v":700},{"s":"b","B":335.45,"v":-200},{"s":"b","B":335.55,"v":900},{"s":"b","B":335.65,"v":-600},{"s":"b","B":335.75,"v":300},{"s":"b","B":335.85,"v":-800},{"s":"b","B":335.95,"v":600},
{"s":"b","B":336.02,"v":1500},{"s":"b","B":336.08,"v":7000},{"s":"b","B":336.12,"v":17000},{"s":"b","B":336.15,"v":32000},{"s":"b","B":336.18,"v":49000},{"s":"b","B":336.21,"v":56500},{"s":"b","B":336.24,"v":56000},{"s":"b","B":336.27,"v":44000},{"s":"b","B":336.3,"v":17000},{"s":"b","B":336.33,"v":-15000},{"s":"b","B":336.36,"v":-42000},{"s":"b","B":336.39,"v":-53500},{"s":"b","B":336.42,"v":-52000},{"s":"b","B":336.46,"v":-30000},{"s":"b","B":336.51,"v":-8500},{"s":"b","B":336.57,"v":-1500},
{"s":"b","B":336.65,"v":-900},{"s":"b","B":336.75,"v":300},{"s":"b","B":336.85,"v":600},{"s":"b","B":336.95,"v":-500},{"s":"b","B":337.05,"v":100},{"s":"b","B":337.15,"v":800},{"s":"b","B":337.25,"v":-1000},{"s":"b","B":337.35,"v":200},{"s":"b","B":337.45,"v":-600},{"s":"b","B":337.55,"v":700},{"s":"b","B":337.65,"v":500},
{"s":"b","B":337.72,"v":1300},{"s":"b","B":337.77,"v":5000},{"s":"b","B":337.81,"v":12500},{"s":"b","B":337.84,"v":25000},{"s":"b","B":337.87,"v":38000},{"s":"b","B":337.9,"v":44500},{"s":"b","B":337.93,"v":43500},{"s":"b","B":337.96,"v":33000},{"s":"b","B":337.99,"v":12000},{"s":"b","B":338.02,"v":-13000},{"s":"b","B":338.05,"v":-36000},{"s":"b","B":338.08,"v":-44500},{"s":"b","B":338.11,"v":-42000},{"s":"b","B":338.15,"v":-23000},{"s":"b","B":338.2,"v":-6500},{"s":"b","B":338.26,"v":-1200},
{"s":"b","B":338.35,"v":900},{"s":"b","B":338.45,"v":-200},{"s":"b","B":338.55,"v":500},{"s":"b","B":338.65,"v":-800},{"s":"b","B":338.75,"v":1000},{"s":"b","B":338.85,"v":-400},{"s":"b","B":338.95,"v":600},{"s":"b","B":339.05,"v":-1000},{"s":"b","B":339.15,"v":300},{"s":"b","B":339.25,"v":700},{"s":"b","B":339.35,"v":-600},{"s":"b","B":339.45,"v":1000},{"s":"b","B":339.55,"v":-200},{"s":"b","B":339.65,"v":-700},{"s":"b","B":339.75,"v":400},{"s":"b","B":339.85,"v":900},{"s":"b","B":339.95,"v":-500},{"s":"b","B":340.05,"v":200},{"s":"b","B":340.15,"v":800},{"s":"b","B":340.25,"v":-300},

{"s":"c","B":332.2,"v":200},{"s":"c","B":332.3,"v":-900},{"s":"c","B":332.4,"v":1000},{"s":"c","B":332.5,"v":-300},{"s":"c","B":332.6,"v":-600},{"s":"c","B":332.7,"v":900},{"s":"c","B":332.8,"v":-100},{"s":"c","B":332.9,"v":800},{"s":"c","B":333,"v":-800},{"s":"c","B":333.1,"v":200},{"s":"c","B":333.2,"v":-400},{"s":"c","B":333.3,"v":1000},{"s":"c","B":333.4,"v":-900},{"s":"c","B":333.5,"v":-300},{"s":"c","B":333.6,"v":500},{"s":"c","B":333.7,"v":1000},{"s":"c","B":333.8,"v":-200},{"s":"c","B":333.9,"v":-700},{"s":"c","B":334,"v":900},{"s":"c","B":334.1,"v":500},{"s":"c","B":334.2,"v":1300},
{"s":"c","B":334.28,"v":2000},{"s":"c","B":334.34,"v":8000},{"s":"c","B":334.38,"v":20000},{"s":"c","B":334.4,"v":29500},{"s":"c","B":334.42,"v":41000},{"s":"c","B":334.44,"v":48000},{"s":"c","B":334.46,"v":56300},{"s":"c","B":334.475,"v":60500},{"s":"c","B":334.49,"v":63000},{"s":"c","B":334.505,"v":60500},{"s":"c","B":334.52,"v":55100},{"s":"c","B":334.535,"v":47500},{"s":"c","B":334.55,"v":32500},{"s":"c","B":334.565,"v":15000},{"s":"c","B":334.58,"v":0},{"s":"c","B":334.61,"v":-25000},{"s":"c","B":334.64,"v":-48000},{"s":"c","B":334.68,"v":-57000},{"s":"c","B":334.72,"v":-40000},{"s":"c","B":334.76,"v":-15000},{"s":"c","B":334.81,"v":-4000},{"s":"c","B":334.87,"v":-1000},
{"s":"c","B":334.95,"v":-100},{"s":"c","B":335.05,"v":900},{"s":"c","B":335.15,"v":-600},{"s":"c","B":335.25,"v":500},{"s":"c","B":335.35,"v":-1000},{"s":"c","B":335.45,"v":400},{"s":"c","B":335.55,"v":-300},{"s":"c","B":335.65,"v":800},{"s":"c","B":335.75,"v":-500},{"s":"c","B":335.85,"v":200},{"s":"c","B":335.95,"v":1000},
{"s":"c","B":336.02,"v":2000},{"s":"c","B":336.08,"v":8000},{"s":"c","B":336.12,"v":20000},{"s":"c","B":336.15,"v":36000},{"s":"c","B":336.18,"v":52000},{"s":"c","B":336.21,"v":58000},{"s":"c","B":336.24,"v":55000},{"s":"c","B":336.27,"v":40000},{"s":"c","B":336.3,"v":12000},{"s":"c","B":336.33,"v":-20000},{"s":"c","B":336.36,"v":-45000},{"s":"c","B":336.39,"v":-54500},{"s":"c","B":336.42,"v":-50000},{"s":"c","B":336.46,"v":-28000},{"s":"c","B":336.51,"v":-8000},{"s":"c","B":336.57,"v":-1500},
{"s":"c","B":336.65,"v":500},{"s":"c","B":336.75,"v":-200},{"s":"c","B":336.85,"v":-800},{"s":"c","B":336.95,"v":900},{"s":"c","B":337.05,"v":-300},{"s":"c","B":337.15,"v":-700},{"s":"c","B":337.25,"v":700},{"s":"c","B":337.35,"v":-900},{"s":"c","B":337.45,"v":400},{"s":"c","B":337.55,"v":-300},{"s":"c","B":337.65,"v":1000},
{"s":"c","B":337.72,"v":1500},{"s":"c","B":337.77,"v":6000},{"s":"c","B":337.81,"v":14000},{"s":"c","B":337.84,"v":27000},{"s":"c","B":337.87,"v":40000},{"s":"c","B":337.9,"v":45500},{"s":"c","B":337.93,"v":43000},{"s":"c","B":337.96,"v":31000},{"s":"c","B":337.99,"v":9000},{"s":"c","B":338.02,"v":-16000},{"s":"c","B":338.05,"v":-37000},{"s":"c","B":338.08,"v":-43500},{"s":"c","B":338.11,"v":-39000},{"s":"c","B":338.15,"v":-21000},{"s":"c","B":338.2,"v":-6000},{"s":"c","B":338.26,"v":-1200},
{"s":"c","B":338.35,"v":-200},{"s":"c","B":338.45,"v":600},{"s":"c","B":338.55,"v":-900},{"s":"c","B":338.65,"v":300},{"s":"c","B":338.75,"v":800},{"s":"c","B":338.85,"v":-600},{"s":"c","B":338.95,"v":-100},{"s":"c","B":339.05,"v":700},{"s":"c","B":339.15,"v":-800},{"s":"c","B":339.25,"v":400},{"s":"c","B":339.35,"v":100},{"s":"c","B":339.45,"v":-600},{"s":"c","B":339.55,"v":900},{"s":"c","B":339.65,"v":-300},{"s":"c","B":339.75,"v":-800},{"s":"c","B":339.85,"v":500},{"s":"c","B":339.95,"v":1000},{"s":"c","B":340.05,"v":-400},{"s":"c","B":340.15,"v":100},{"s":"c","B":340.25,"v":600},

{"s":"m","B":332.2,"v":300},{"s":"m","B":332.3,"v":-600},{"s":"m","B":332.4,"v":500},{"s":"m","B":332.5,"v":800},{"s":"m","B":332.6,"v":-400},{"s":"m","B":332.7,"v":100},{"s":"m","B":332.8,"v":-900},{"s":"m","B":332.9,"v":600},{"s":"m","B":333,"v":200},{"s":"m","B":333.1,"v":-300},{"s":"m","B":333.2,"v":700},{"s":"m","B":333.3,"v":-800},{"s":"m","B":333.4,"v":400},{"s":"m","B":333.5,"v":-200},{"s":"m","B":333.6,"v":900},{"s":"m","B":333.7,"v":-500},{"s":"m","B":333.8,"v":300},{"s":"m","B":333.9,"v":600},{"s":"m","B":334,"v":-700},{"s":"m","B":334.1,"v":200},{"s":"m","B":334.2,"v":100},
{"s":"m","B":334.28,"v":200},{"s":"m","B":334.34,"v":-500},{"s":"m","B":334.38,"v":600},{"s":"m","B":334.4,"v":-300},{"s":"m","B":334.42,"v":400},{"s":"m","B":334.44,"v":-700},{"s":"m","B":334.46,"v":100},{"s":"m","B":334.475,"v":500},{"s":"m","B":334.49,"v":-400},{"s":"m","B":334.505,"v":300},{"s":"m","B":334.52,"v":-600},{"s":"m","B":334.535,"v":700},{"s":"m","B":334.55,"v":-200},{"s":"m","B":334.565,"v":400},{"s":"m","B":334.58,"v":-500},{"s":"m","B":334.61,"v":200},{"s":"m","B":334.64,"v":600},{"s":"m","B":334.68,"v":-300},{"s":"m","B":334.72,"v":100},{"s":"m","B":334.76,"v":-700},{"s":"m","B":334.81,"v":400},{"s":"m","B":334.87,"v":-100},
{"s":"m","B":334.95,"v":400},{"s":"m","B":335.05,"v":-700},{"s":"m","B":335.15,"v":600},{"s":"m","B":335.25,"v":200},{"s":"m","B":335.35,"v":-500},{"s":"m","B":335.45,"v":900},{"s":"m","B":335.55,"v":-200},{"s":"m","B":335.65,"v":700},{"s":"m","B":335.75,"v":-800},{"s":"m","B":335.85,"v":300},{"s":"m","B":335.95,"v":-100},
{"s":"m","B":336.02,"v":-300},{"s":"m","B":336.08,"v":500},{"s":"m","B":336.12,"v":-600},{"s":"m","B":336.15,"v":200},{"s":"m","B":336.18,"v":700},{"s":"m","B":336.21,"v":-400},{"s":"m","B":336.24,"v":100},{"s":"m","B":336.27,"v":-800},{"s":"m","B":336.3,"v":400},{"s":"m","B":336.33,"v":-200},{"s":"m","B":336.36,"v":600},{"s":"m","B":336.39,"v":-500},{"s":"m","B":336.42,"v":300},{"s":"m","B":336.46,"v":-700},{"s":"m","B":336.51,"v":200},{"s":"m","B":336.57,"v":500},
{"s":"m","B":336.65,"v":-200},{"s":"m","B":336.75,"v":600},{"s":"m","B":336.85,"v":-500},{"s":"m","B":336.95,"v":300},{"s":"m","B":337.05,"v":900},{"s":"m","B":337.15,"v":-400},{"s":"m","B":337.25,"v":-700},{"s":"m","B":337.35,"v":500},{"s":"m","B":337.45,"v":-100},{"s":"m","B":337.55,"v":800},{"s":"m","B":337.65,"v":-600},
{"s":"m","B":337.72,"v":400},{"s":"m","B":337.77,"v":-600},{"s":"m","B":337.81,"v":200},{"s":"m","B":337.84,"v":-300},{"s":"m","B":337.87,"v":700},{"s":"m","B":337.9,"v":-500},{"s":"m","B":337.93,"v":-100},{"s":"m","B":337.96,"v":600},{"s":"m","B":337.99,"v":-800},{"s":"m","B":338.02,"v":300},{"s":"m","B":338.05,"v":-400},{"s":"m","B":338.08,"v":100},{"s":"m","B":338.11,"v":-700},{"s":"m","B":338.15,"v":500},{"s":"m","B":338.2,"v":-200},{"s":"m","B":338.26,"v":-600},
{"s":"m","B":338.35,"v":-500},{"s":"m","B":338.45,"v":200},{"s":"m","B":338.55,"v":-800},{"s":"m","B":338.65,"v":100},{"s":"m","B":338.75,"v":-1000},{"s":"m","B":338.85,"v":400},{"s":"m","B":338.95,"v":-600},{"s":"m","B":339.05,"v":-100},{"s":"m","B":339.15,"v":500},{"s":"m","B":339.25,"v":-900},{"s":"m","B":339.35,"v":300},{"s":"m","B":339.45,"v":-400},{"s":"m","B":339.55,"v":700},{"s":"m","B":339.65,"v":-800},{"s":"m","B":339.75,"v":-200},{"s":"m","B":339.85,"v":500},{"s":"m","B":339.95,"v":-600},{"s":"m","B":340.05,"v":200},{"s":"m","B":340.15,"v":-300},{"s":"m","B":340.25,"v":300}
]
},
"hconcat":[
{"width":353,"height":284,
"layer":[
{"data":{"name":"L"},"mark":{"type":"line","strokeWidth":1,"clip":true},
"encoding":{
"x":{"field":"B","type":"quantitative","scale":{"domain":[332.24,341.78],"nice":false,"zero":false},
"axis":{"title":"B / mT","values":[333,334,335,336,337,338,339,340,341],"labelExpr":"datum.value % 2 === 0 ? '' + datum.value : ''","tickSize":{"condition":{"test":"datum.value % 2 === 0","value":5},"value":3},"labelFontSize":12,"labelPadding":3,"titleFontSize":14,"titleY":40,"titleBaseline":"alphabetic"}},
"y":{"field":"v","type":"quantitative","scale":{"domain":[-39400,37900],"nice":false,"zero":false},
"axis":{"title":"Signal","values":[-35000,-30000,-25000,-20000,-15000,-10000,-5000,0,5000,10000,15000,20000,25000,30000,35000],"labelExpr":"datum.value % 10000 === 0 ? '' + datum.value : ''","tickSize":{"condition":{"test":"datum.value % 10000 === 0","value":4},"value":2},"labelFontSize":12,"labelPadding":5,"titleFontSize":14,"titleX":-64,"titleY":133,"titleBaseline":"alphabetic"}},
"color":{"field":"s","type":"nominal","scale":{"domain":["k","r","g","b","c","m"],"range":["#000000","#ff0000","#00ff00","#0000ff","#00ffff","#ff00ff"]},
"legend":{"orient":"none","legendX":237,"legendY":-26,"title":null,"symbolType":"M-1.6,0H1.6","symbolSize":400,"symbolStrokeWidth":1.5,"symbolOffset":5,"labelFontSize":14,"labelColor":"black","labelOffset":12.5,"strokeColor":"black","fillColor":"white","padding":4,"rowPadding":0,"labelExpr":"datum.label == 'k' ? '[Dy.D₁]³⁺ témoin +' : datum.label == 'r' ? 'milieu 60 min' : datum.label == 'g' ? 'milieu 30 min' : datum.label == 'b' ? 'milieu 10 min' : datum.label == 'c' ? 'milieu 5 min' : 'milieu 0 min'"}}
}},
{"data":{"name":"L"},"transform":[{"filter":"datum.s != 'm' && datum.v > 0 && datum.B >= 334.295 && datum.B <= 334.6"}],
"mark":{"type":"line","strokeWidth":1},
"encoding":{
"x":{"field":"B","type":"quantitative","scale":{"domain":[334.271,334.616],"range":[257,364],"nice":false,"zero":false},
"axis":{"orient":"bottom","offset":-27.3,"title":"B / mT","values":[334.3,334.35,334.4,334.45,334.5,334.55,334.6],"labelExpr":"format(datum.value, '.2f')","labelFontSize":4,"tickSize":2,"labelPadding":1,"titleFontSize":5,"titlePadding":2}},
"y":{"field":"v","type":"quantitative","scale":{"domain":[11400,40000],"range":[256.7,171],"clamp":true,"nice":false,"zero":false},
"axis":{"orient":"left","offset":-257,"title":"Signal","values":[15000,20000,25000,30000,35000,40000],"labelExpr":"datum.value % 10000 === 0 ? '' + datum.value : ''","tickSize":{"condition":{"test":"datum.value % 10000 === 0","value":2.5},"value":1.5},"labelFontSize":4,"labelPadding":1,"titleFontSize":5,"titlePadding":2}},
"color":{"field":"s","type":"nominal"}
}}
],
"resolve":{"scale":{"x":"independent","y":"independent"},"axis":{"x":"independent","y":"independent"}}
},
{"width":348,"height":284,
"layer":[
{"data":{"name":"R"},"mark":{"type":"line","strokeWidth":1,"clip":true},
"encoding":{
"x":{"field":"B","type":"quantitative","scale":{"domain":[331.8,341.53],"nice":false,"zero":false},
"axis":{"title":"B / mT","values":[332,333,334,335,336,337,338,339,340,341],"labelExpr":"datum.value % 2 === 0 ? '' + datum.value : ''","tickSize":{"condition":{"test":"datum.value % 2 === 0","value":5},"value":3},"labelFontSize":12,"labelPadding":3,"titleFontSize":14,"titleY":40,"titleBaseline":"alphabetic"}},
"y":{"field":"v","type":"quantitative","scale":{"domain":[-65700,72200],"nice":false,"zero":false},
"axis":{"title":"Signal","values":[-65000,-60000,-55000,-50000,-45000,-40000,-35000,-30000,-25000,-20000,-15000,-10000,-5000,0,5000,10000,15000,20000,25000,30000,35000,40000,45000,50000,55000,60000,65000,70000],"labelExpr":"datum.value % 10000 === 0 ? '' + datum.value : ''","tickSize":{"condition":{"test":"datum.value % 10000 === 0","value":4},"value":2},"labelFontSize":12,"labelPadding":3,"titleFontSize":14,"titleX":-56,"titleY":131,"titleBaseline":"alphabetic"}},
"color":{"field":"s","type":"nominal","scale":{"domain":["k","r","g","b","c","m"],"range":["#000000","#ff0000","#00ff00","#0000ff","#00ffff","#ff00ff"]},
"legend":{"orient":"none","legendX":248,"legendY":-32,"title":null,"symbolType":"M-1.6,0H1.6","symbolSize":400,"symbolStrokeWidth":1.5,"symbolOffset":5,"labelFontSize":14,"labelColor":"black","labelOffset":12.5,"strokeColor":"black","fillColor":"white","padding":4,"rowPadding":0,"labelExpr":"datum.label == 'k' ? '[Dy.D₂]³⁺ témoin +' : datum.label == 'r' ? 'milieu 60 min' : datum.label == 'g' ? 'milieu 30 min' : datum.label == 'b' ? 'milieu 10 min' : datum.label == 'c' ? 'milieu 5 min' : 'milieu 0 min'"}}
}},
{"data":{"name":"R"},"transform":[{"filter":"datum.s != 'm' && datum.v > 0 && datum.B >= 334.395 && datum.B <= 334.6"}],
"mark":{"type":"line","strokeWidth":1},
"encoding":{
"x":{"field":"B","type":"quantitative","scale":{"domain":[334.316,334.689],"range":[260,366],"nice":false,"zero":false},
"axis":{"orient":"bottom","offset":-25.3,"title":"B / mT","values":[334.35,334.4,334.45,334.5,334.55,334.6,334.65],"labelExpr":"format(datum.value, '.2f')","labelFontSize":4,"tickSize":2,"labelPadding":1,"titleFontSize":5,"titlePadding":2}},
"y":{"field":"v","type":"quantitative","scale":{"domain":[26600,67300],"range":[258.7,174],"clamp":true,"nice":false,"zero":false},
"axis":{"orient":"left","offset":-260,"title":"Signal","values":[30000,35000,40000,45000,50000,55000,60000,65000],"labelExpr":"datum.value % 10000 === 0 ? '' + datum.value : ''","tickSize":{"condition":{"test":"datum.value % 10000 === 0","value":2.5},"value":1.5},"labelFontSize":4,"labelPadding":1,"titleFontSize":5,"titlePadding":2}},
"color":{"field":"s","type":"nominal"}
}}
],
"resolve":{"scale":{"x":"independent","y":"independent"},"axis":{"x":"independent","y":"independent"}}
}
],
"resolve":{"scale":{"x":"independent","y":"independent","color":"independent"},"legend":{"color":"independent"}}
}
